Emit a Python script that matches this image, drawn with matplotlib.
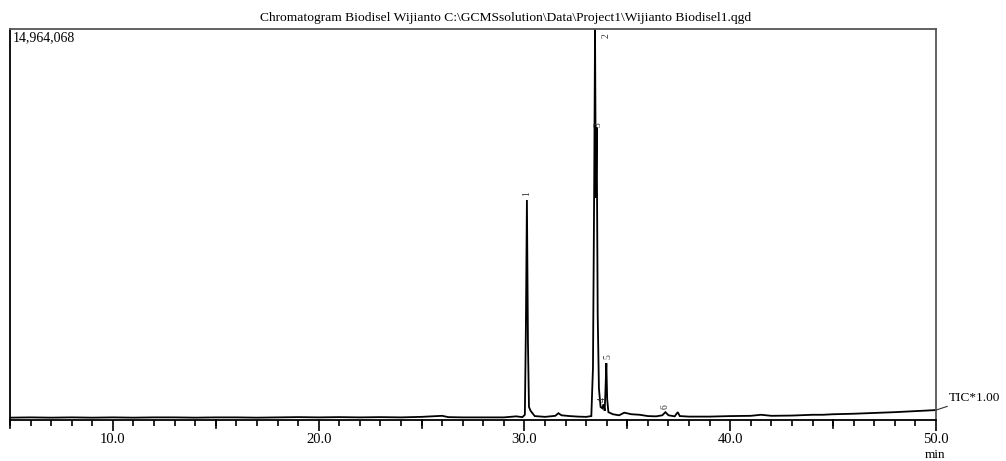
import matplotlib
matplotlib.use("Agg")
import matplotlib.pyplot as plt
from matplotlib.ticker import MultipleLocator, FixedLocator

# ---- data (retention time in min, intensity in counts) ----
time_min = [5.0, 6.0, 7.0, 8.0, 9.0, 10.0, 11.0, 12.0, 13.0, 14.0, 15.0, 16.0, 17.0,
            18.0, 19.0, 20.0, 21.0, 22.0, 23.0, 24.0, 25.0, 26.0, 26.3, 27.0, 28.0,
            29.0, 29.6, 29.9, 30.02, 30.07, 30.12, 30.17, 30.22, 30.3, 30.5, 31.0,
            31.5, 31.65, 31.8, 32.2, 32.6, 33.0, 33.25, 33.33, 33.39, 33.43, 33.47,
            33.51, 33.56, 33.62, 33.70, 33.78, 33.84, 33.90, 33.94, 33.98, 34.02,
            34.08, 34.3, 34.6, 34.85, 35.2, 35.6, 36.0, 36.4, 36.7, 36.85, 37.0,
            37.3, 37.45, 37.55, 38.0, 39.0, 40.0, 41.0, 41.5, 42.0, 43.0, 44.0,
            44.5, 45.0, 46.0, 47.0, 48.0, 49.0, 50.0]
intensity_m = [0.09, 0.10, 0.09, 0.10, 0.09, 0.10, 0.09, 0.10, 0.10, 0.09, 0.10, 0.10,
               0.09, 0.10, 0.11, 0.10, 0.11, 0.10, 0.11, 0.10, 0.12, 0.16, 0.11, 0.10,
               0.10, 0.10, 0.14, 0.11, 0.20, 3.5, 8.42, 3.0, 0.5, 0.35, 0.15, 0.12,
               0.16, 0.26, 0.18, 0.15, 0.13, 0.12, 0.15, 2.0, 9.0, 14.964068, 8.5,
               11.2, 4.0, 1.2, 0.5, 0.45, 0.6, 0.35, 1.2, 2.18, 0.8, 0.3, 0.22, 0.18,
               0.28, 0.22, 0.20, 0.15, 0.14, 0.18, 0.30, 0.18, 0.14, 0.30, 0.15, 0.13,
               0.13, 0.15, 0.16, 0.20, 0.16, 0.17, 0.20, 0.20, 0.22, 0.24, 0.27, 0.30,
               0.34, 0.38]
intensity = [v * 1e6 for v in intensity_m]

peak_ids = ["1", "2", "3", "4", "5", "6"]
peak_times = [30.12, 33.43, 33.51, 33.80, 33.98, 36.85]
peak_heights = [8.42e6, 14.964068e6, 11.2e6, 0.6e6, 2.18e6, 0.3e6]

y_max = 14964068
x_major = [10.0, 20.0, 30.0, 40.0, 50.0]
x_labels = ["10.0", "20.0", "30.0", "40.0", "50.0"]
title = r"Chromatogram Biodisel Wijianto C:\GCMSsolution\Data\Project1\Wijianto Biodisel1.qgd"

# ---- figure ----
plt.rcParams["font.family"] = ["Liberation Serif", "DejaVu Serif"]
W, H = 1006, 461
fig = plt.figure(figsize=(W / 100, H / 100), dpi=100)
L, R, T, B = 10, 936, 29, 420
ax = fig.add_axes([L / W, 1 - B / H, (R - L) / W, (B - T) / H])

ax.plot(time_min, intensity, color="black", lw=1.3, solid_joinstyle="miter")
ax.set_xlim(5.0, 50.0)
ax.set_ylim(0, y_max)

for s in ["left", "bottom"]:
    ax.spines[s].set_color("black")
    ax.spines[s].set_linewidth(1.3)
for s in ["top", "right"]:
    ax.spines[s].set_color("#555555")
    ax.spines[s].set_linewidth(1.3)

ax.set_yticks([])
ax.set_xticks(x_major, labels=x_labels, minor=False)
ax.set_xticks([t for t in range(5, 51) if t % 10 != 0], minor=True)
ax.tick_params(axis="x", which="major", length=8, width=1.2, direction="out",
               labelsize=10.5, pad=1, color="black")
ax.tick_params(axis="x", which="minor", length=4, width=1.2, direction="out", color="black")
# longer ticks at the 5-min marks
for t in [5, 15, 25, 35, 45]:
    ax.plot([t, t], [0, -8 / 391 * y_max], color="black", lw=1.2, clip_on=False)

ax.text(0.003, 0.995, "14,964,068", transform=ax.transAxes, ha="left", va="top",
        fontsize=10)

fig.text(0.5025, 1 - 18 / H, title, ha="center", va="center", fontsize=9.7)
fig.text(935.5 / W, 1 - 455 / H, "min", ha="center", va="center", fontsize=9.5)

# peak labels
offsets = {"1": (0, 3), "2": (8, -3), "3": (1, 0), "4": (0, 2), "5": (1, 3), "6": (0, 2)}
for pid, pt, ph in zip(peak_ids, peak_times, peak_heights):
    dx, dy = offsets[pid]
    ax.annotate(pid, (pt, ph), xytext=(dx, dy), textcoords="offset points",
                ha="center", va="bottom" if pid != "2" else "top", rotation=90,
                fontsize=7, color="#333333", annotation_clip=False)

# TIC label with leader line
ax.annotate("TIC*1.00", xy=(50.0, intensity[-1]), xytext=(9, 9),
            textcoords="offset points", ha="left", va="center", fontsize=9.5,
            arrowprops=dict(arrowstyle="-", color="#333333", lw=0.8,
                            shrinkA=0, shrinkB=0),
            annotation_clip=False)

fig.savefig("out.png", dpi=100)
